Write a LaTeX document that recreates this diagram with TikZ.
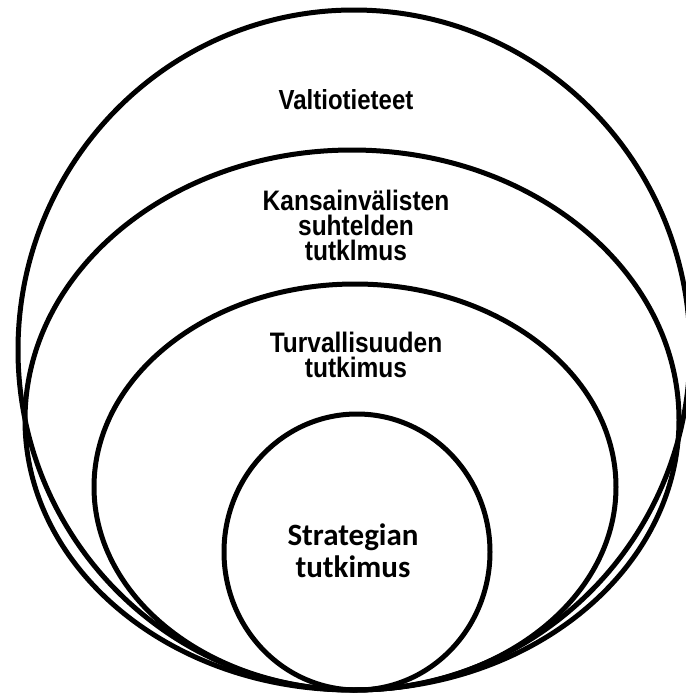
\documentclass[tikz,border=0pt]{standalone}
\usepackage{fontspec}
\setmainfont{Liberation Sans}
\newfontfamily\calibri{Carlito}
\begin{document}
\begin{tikzpicture}
[x=1pt, y=-1pt,
ring/.style = {draw=black, line width=5pt},
every node/.style = {align=center, inner sep=0pt, anchor=base},
label1/.style = {font=\bfseries\fontsize{24}{25}\selectfont, yscale=1.15, transform shape},
label2/.style = {font=\bfseries\fontsize{24.5}{21.5}\selectfont, yscale=1.15, transform shape},
label3/.style = {font=\calibri\bfseries\fontsize{31}{32}\selectfont}]
\useasboundingbox (0,0) rectangle (686,697);
% nested areas
\draw[ring] (354,350) ellipse [x radius=336, y radius=340];
\draw[ring] (352,420) ellipse [x radius=327, y radius=270];
\draw[ring] (355,487) ellipse [x radius=261, y radius=203];
\draw[ring] (357,552) ellipse [x radius=133, y radius=138];
% texts (anchored at the last baseline)
\node[label1] (valtio) at (346,109) {Valtiotieteet};
\node[label2] (kv) at (356,260) {Kansainvälisten\\suhtelden\\tutklmus};
\node[label2] (turva) at (356,377) {Turvallisuuden\\tutkimus};
\node[label3] (strat) at (353,577) {Strategian\\tutkimus};
\end{tikzpicture}
\end{document}
